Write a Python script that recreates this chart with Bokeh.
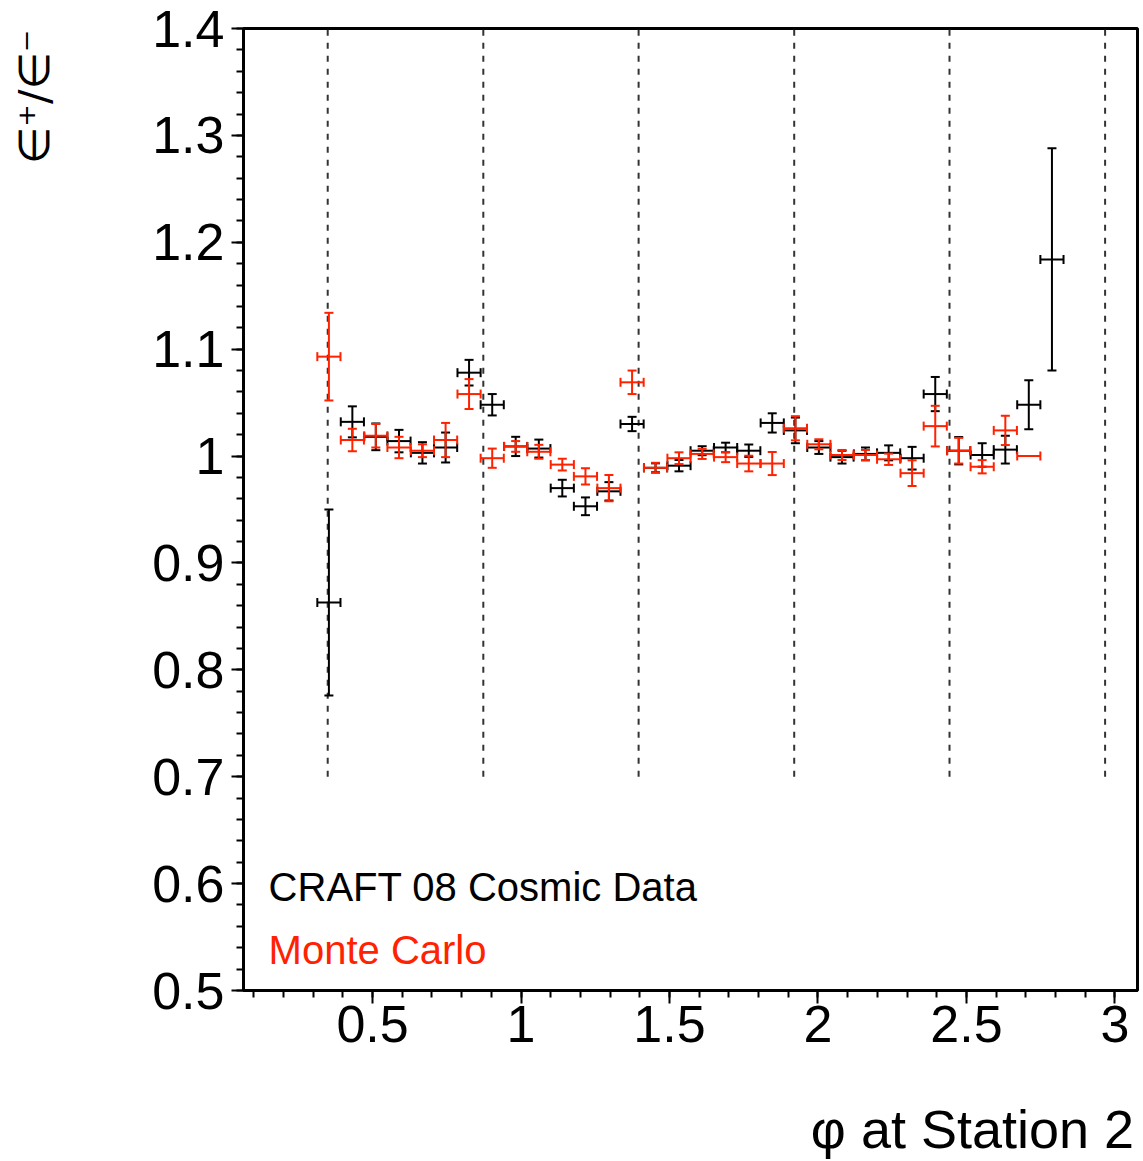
from bokeh.plotting import figure
from bokeh.models import (ColumnDataSource, Whisker, TeeHead, FixedTicker,
                          Label, Range1d)
from bokeh.embed import file_html
from bokeh.resources import INLINE

# ---------------- data ----------------
phi_centers = [0.353, 0.432, 0.511, 0.589, 0.668, 0.746, 0.825, 0.903,
               0.982, 1.060, 1.139, 1.217, 1.296, 1.374, 1.453, 1.532,
               1.610, 1.689, 1.767, 1.846, 1.924, 2.003, 2.081, 2.160,
               2.238, 2.317, 2.395, 2.474, 2.553, 2.631, 2.710, 2.788]
phi_halfwidth = 0.039

data_ratio = [0.863, 1.032, 1.018, 1.014, 1.003, 1.008, 1.078, 1.048,
              1.009, 1.007, 0.970, 0.953, 0.967, 1.030, 0.989, 0.991,
              1.005, 1.008, 1.005, 1.031, 1.024, 1.008, 0.999, 1.002,
              1.003, 0.998, 1.058, 1.005, 1.001, 1.006, 1.048, 1.184]
data_err = [0.087, 0.0145, 0.0125, 0.0105, 0.010, 0.014, 0.012, 0.010,
            0.009, 0.0084, 0.0078, 0.0083, 0.0086, 0.0067, 0.0042, 0.0053,
            0.0042, 0.0045, 0.0058, 0.009, 0.012, 0.006, 0.006, 0.006,
            0.007, 0.0106, 0.016, 0.0128, 0.011, 0.013, 0.023, 0.104]

mc_ratio = [1.093, 1.015, 1.019, 1.008, 1.005, 1.015, 1.058, 0.998,
            1.009, 1.004, 0.992, 0.981, 0.970, 1.069, 0.989, 0.998,
            1.002, 0.999, 0.993, 0.993, 1.026, 1.011, 1.001, 1.001,
            0.997, 0.984, 1.028, 1.005, 0.990, 1.024, 1.000]
mc_err = [0.041, 0.0105, 0.011, 0.010, 0.006, 0.016, 0.014, 0.009,
          0.005, 0.0065, 0.0055, 0.0076, 0.0123, 0.011, 0.0047, 0.0055,
          0.0047, 0.0047, 0.0073, 0.0108, 0.0113, 0.0047, 0.0047, 0.0047,
          0.0053, 0.012, 0.019, 0.012, 0.0062, 0.0137, 0.0]

sector_edges = [0.349, 0.873, 1.396, 1.920, 2.443, 2.967]
sector_line_bottom = 0.7
sector_line_top = 1.4

x_ticks = [0.5, 1.0, 1.5, 2.0, 2.5, 3.0]
x_tick_labels = ["0.5", "1", "1.5", "2", "2.5", "3"]
x_minor = [round(0.1 * k, 1) for k in range(1, 31)]
y_ticks = [0.5, 0.6, 0.7, 0.8, 0.9, 1.0, 1.1, 1.2, 1.3, 1.4]
y_tick_labels = ["0.5", "0.6", "0.7", "0.8", "0.9", "1", "1.1", "1.2", "1.3", "1.4"]
y_minor = [round(0.5 + 0.02 * k, 2) for k in range(0, 46)]

x_title = "φ at Station 2"
y_title = "∈⁺/∈⁻"

DATA_COLOR = "#000000"
MC_COLOR = "#ff2200"
FONT = "Liberation Sans"
NBSP = "\u00a0"

# ---------------- figure ----------------
p = figure(width=1143, height=1161, output_backend="svg", toolbar_location=None,
           x_range=Range1d(0.0654, 3.0761), y_range=Range1d(0.5, 1.4),
           min_border_left=243, min_border_right=6, min_border_top=28,
           min_border_bottom=171)
p.grid.visible = False
p.outline_line_color = "black"
p.outline_line_width = 3
p.background_fill_color = "white"
p.border_fill_color = "white"

# axes
xa = p.xaxis[0]
xa.ticker = FixedTicker(ticks=x_ticks, minor_ticks=x_minor)
xa.major_label_overrides = dict(zip(x_ticks, x_tick_labels))
xa.major_label_text_font = FONT
xa.major_label_text_font_size = "52px"
xa.major_label_text_color = "black"
xa.major_tick_out = 13
xa.major_tick_in = 0
xa.minor_tick_out = 7
xa.minor_tick_in = 0
xa.major_tick_line_width = 2
xa.minor_tick_line_width = 2
xa.axis_line_width = 3
xa.major_label_standoff = 2
# ROOT style: title flush with the end of the axis (label is centred on the
# axis end, so trailing non-breaking spaces shift the visible text back)
xa.axis_label = x_title + NBSP * 22
xa.axis_label_align = "end"
xa.axis_label_text_font = FONT
xa.axis_label_text_font_size = "54px"
xa.axis_label_text_font_style = "normal"
xa.axis_label_text_color = "black"
xa.axis_label_standoff = 54

ya = p.yaxis[0]
ya.ticker = FixedTicker(ticks=y_ticks, minor_ticks=y_minor)
ya.major_label_overrides = dict(zip(y_ticks, y_tick_labels))
ya.major_label_text_font = FONT
ya.major_label_text_font_size = "52px"
ya.major_label_text_color = "black"
ya.major_tick_out = 12
ya.major_tick_in = 0
ya.minor_tick_out = 7
ya.minor_tick_in = 0
ya.major_tick_line_width = 2
ya.minor_tick_line_width = 2
ya.axis_line_width = 3
ya.major_label_standoff = 7
ya.axis_label = y_title + NBSP * 10
ya.axis_label_align = "end"
ya.axis_label_text_font = "DejaVu Sans"
ya.axis_label_text_font_size = "43px"
ya.axis_label_text_font_style = "normal"
ya.axis_label_text_color = "black"
ya.axis_label_standoff = 90

# sector boundary dashed lines
p.segment(x0=sector_edges, x1=sector_edges,
          y0=[sector_line_bottom] * len(sector_edges),
          y1=[sector_line_top] * len(sector_edges),
          line_color="#333333", line_width=2, line_dash="6 7")


def add_points(xs, ys, errs, color):
    src = ColumnDataSource(dict(
        x=xs, y=ys,
        xl=[x - phi_halfwidth for x in xs], xu=[x + phi_halfwidth for x in xs],
        yl=[y - e for y, e in zip(ys, errs)], yu=[y + e for y, e in zip(ys, errs)]))
    for dim, base, lo, hi in (("height", "x", "yl", "yu"), ("width", "y", "xl", "xu")):
        w = Whisker(source=src, base=base, lower=lo, upper=hi, dimension=dim,
                    line_color=color, line_width=2, level="annotation",
                    upper_head=TeeHead(size=9, line_color=color, line_width=2),
                    lower_head=TeeHead(size=9, line_color=color, line_width=2))
        p.add_layout(w)


add_points(phi_centers, data_ratio, data_err, DATA_COLOR)
add_points(phi_centers[:len(mc_ratio)], mc_ratio, mc_err, MC_COLOR)

# legend texts
p.add_layout(Label(x=0.150, y=0.597, text="CRAFT 08 Cosmic Data",
                   text_font=FONT, text_font_size="40px", text_color=DATA_COLOR,
                   text_baseline="alphabetic", text_align="left"))
p.add_layout(Label(x=0.150, y=0.538, text="Monte Carlo",
                   text_font=FONT, text_font_size="40px", text_color=MC_COLOR,
                   text_baseline="alphabetic", text_align="left"))

open("out.html", "w").write(file_html(p, INLINE))
